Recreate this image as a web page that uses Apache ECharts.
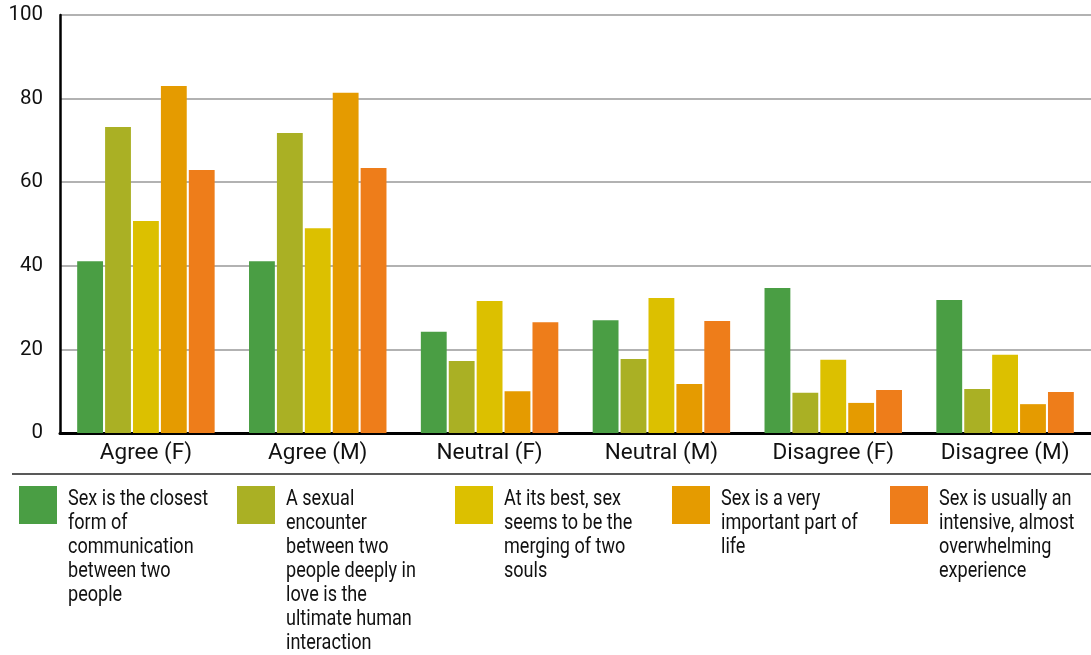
<!DOCTYPE html>
<html><head><meta charset="utf-8">
<script src="https://cdn.jsdelivr.net/npm/echarts@6/dist/echarts.min.js"></script>
<style>html,body{margin:0;padding:0;background:#fff}#c{width:1091px;height:655px}</style>
</head><body><div id="c"></div>
<script>
const categories = ['Agree (F)', 'Agree (M)', 'Neutral (F)', 'Neutral (M)', 'Disagree (F)', 'Disagree (M)'];
const seriesNames = [
  'Sex is the closest\nform of\ncommunication\nbetween two\npeople',
  'A sexual\nencounter\nbetween two\npeople deeply in\nlove is the\nultimate human\ninteraction',
  'At its best, sex\nseems to be the\nmerging of two\nsouls',
  'Sex is a very\nimportant part of\nlife',
  'Sex is usually an\nintensive, almost\noverwhelming\nexperience'
];
const closestForm = [41.1, 41.1, 24.2, 27.0, 34.7, 31.8];
const ultimateInteraction = [73.2, 71.8, 17.2, 17.7, 9.6, 10.5];
const mergingSouls = [50.7, 49.0, 31.6, 32.3, 17.5, 18.7];
const importantPart = [83.0, 81.4, 10.0, 11.7, 7.2, 6.9];
const overwhelming = [62.9, 63.4, 26.5, 26.8, 10.3, 9.8];
const yTicks = [0, 20, 40, 60, 80, 100];

const values = [closestForm, ultimateInteraction, mergingSouls, importantPart, overwhelming];
const colors = ['#4a9e44', '#aab024', '#dcc000', '#e59b00', '#ee7d1a'];
const legendX = [19, 237, 455, 672, 890];
const font = 'Roboto, "Liberation Sans", sans-serif';

const chart = echarts.init(document.getElementById('c'), null, {renderer: 'canvas'});
const graphics = [{
  type: 'line', shape: {x1: 12, y1: 474, x2: 1091, y2: 474},
  style: {stroke: '#222', lineWidth: 1.5}
}];
seriesNames.forEach((n, i) => {
  graphics.push({type: 'rect', shape: {x: legendX[i], y: 486, width: 38, height: 38}, style: {fill: colors[i]}});
  graphics.push({type: 'text', x: legendX[i] + 49, y: 488, scaleX: 0.84,
    style: {text: n, fill: '#111', font: '21.5px Roboto, sans-serif', lineHeight: 24, verticalAlign: 'top'}});
});

chart.setOption({
  animation: false,
  backgroundColor: '#fff',
  grid: {left: 60, right: 0, top: 15, bottom: 222, containLabel: false},
  xAxis: {
    type: 'category', data: categories,
    axisLine: {show: true, onZero: false, lineStyle: {color: '#000', width: 3}},
    axisTick: {show: false},
    axisLabel: {color: '#111', fontSize: 22.5, fontFamily: font, margin: 9}
  },
  yAxis: {
    type: 'value', min: 0, max: 100, interval: 20,
    axisLine: {show: true, lineStyle: {color: '#000', width: 2.5}},
    axisTick: {show: false},
    splitLine: {show: true, lineStyle: {color: '#999', width: 1.5}},
    axisLabel: {color: '#111', fontSize: 20.5, fontFamily: font, margin: 17,
      formatter: v => yTicks.includes(v) ? String(v) : ''}
  },
  legend: {show: false},
  series: values.map((d, i) => ({
    type: 'bar', name: seriesNames[i], data: d,
    itemStyle: {color: colors[i]},
    barGap: '8%', barCategoryGap: '20%'
  })),
  graphic: graphics
});
</script></body></html>
